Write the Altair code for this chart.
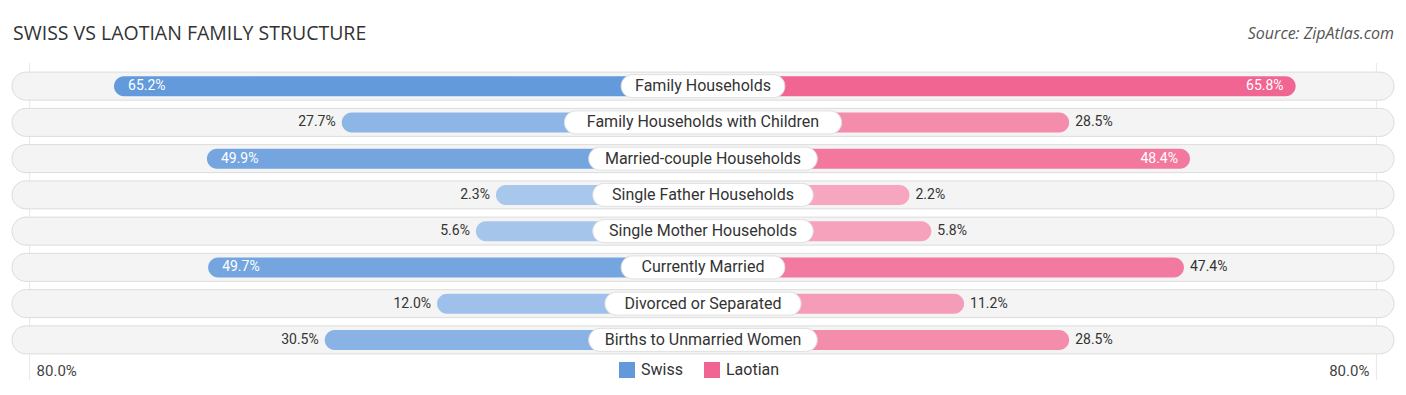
import altair as alt
import pandas as pd

categories = [
    "Family Households",
    "Family Households with Children",
    "Married-couple Households",
    "Single Father Households",
    "Single Mother Households",
    "Currently Married",
    "Divorced or Separated",
    "Births to Unmarried Women",
]
swiss = [65.2, 27.7, 49.9, 2.3, 5.6, 49.7, 12.0, 30.5]
laotian = [65.8, 28.5, 48.4, 2.2, 5.8, 47.4, 11.2, 28.5]
series = ["Swiss", "Laotian"]
axis_label = "80.0%"

# layout constants (units: 1 unit = K px)
K = 6.07
OFF = 31.8
D = 113.8
GRID = 110.9
W = 1382
H = 290

df = pd.DataFrame({"cat": categories, "swiss": swiss, "laotian": laotian})

xs = alt.Scale(domain=[-D, D], nice=False, zero=False)
ys = alt.Scale(domain=categories, paddingInner=0, paddingOuter=0)
Y = alt.Y("cat:N", scale=ys, axis=None, sort=categories)

base = alt.Chart(df).transform_calculate(
    lo=f"{-D}", hi=f"{D}", zero="0",
    s_end=f"-({OFF} + datum.swiss)",
    l_end=f"{OFF} + datum.laotian",
    hw=f"(length(datum.cat)*8.1+26)/2/{K}",
    nhw=f"-(length(datum.cat)*8.1+26)/2/{K}",
    s_lab="format(datum.swiss, '.1f') + '%'",
    l_lab="format(datum.laotian, '.1f') + '%'",
)

bg = base.mark_bar(height=28, cornerRadius=14, fill="#f4f4f4",
                   stroke="#dcdcdc", strokeWidth=1).encode(
    x=alt.X("lo:Q", scale=xs, axis=None), x2="hi:Q", y=Y)

sbar = base.mark_bar(height=20, cornerRadius=10).encode(
    x=alt.X("s_end:Q", scale=xs, axis=None), x2="zero:Q", y=Y,
    color=alt.Color("swiss:Q", scale=alt.Scale(domain=[0, 66], range=["#abc9ed", "#6199db"]), legend=None),
)
lbar = base.mark_bar(height=20, cornerRadius=10).encode(
    x=alt.X("zero:Q", scale=xs, axis=None), x2="l_end:Q", y=Y,
    fill=alt.Fill("laotian:Q", scale=alt.Scale(domain=[0, 66], range=["#f6a8c0", "#f06591"]), legend=None),
)

pill = base.mark_bar(height=23, cornerRadius=11.5, fill="white",
                     stroke="#e0e0e0", strokeWidth=1).encode(
    x=alt.X("nhw:Q", scale=xs, axis=None), x2="hw:Q", y=Y)

cat_text = base.mark_text(font="Roboto", fontSize=16, color="#333333").encode(
    x=alt.X("zero:Q", scale=xs, axis=None), y=Y, text="cat:N")

TH = 48
s_in = base.transform_filter(f"datum.swiss > {TH}").mark_text(
    font="Roboto", fontSize=14, color="white", align="left", dx=14).encode(
    x=alt.X("s_end:Q", scale=xs, axis=None), y=Y, text="s_lab:N")
s_out = base.transform_filter(f"datum.swiss <= {TH}").mark_text(
    font="Roboto", fontSize=14, color="#333333", align="right", dx=-6).encode(
    x=alt.X("s_end:Q", scale=xs, axis=None), y=Y, text="s_lab:N")
l_in = base.transform_filter(f"datum.laotian > {TH}").mark_text(
    font="Roboto", fontSize=14, color="white", align="right", dx=-12).encode(
    x=alt.X("l_end:Q", scale=xs, axis=None), y=Y, text="l_lab:N")
l_out = base.transform_filter(f"datum.laotian <= {TH}").mark_text(
    font="Roboto", fontSize=14, color="#333333", align="left", dx=6).encode(
    x=alt.X("l_end:Q", scale=xs, axis=None), y=Y, text="l_lab:N")

gdf = pd.DataFrame({"g": [-GRID, GRID], "t": [axis_label, axis_label]})
grid = alt.Chart(gdf).mark_rule(color="#e8e8e8", strokeWidth=1).encode(
    x=alt.X("g:Q", scale=xs, axis=None), y=alt.value(-5), y2=alt.value(312))
ax_l = alt.Chart(gdf).transform_filter("datum.g < 0").mark_text(
    font="Roboto", fontSize=15, color="#444444", align="left", dx=7).encode(
    x=alt.X("g:Q", scale=xs, axis=None), y=alt.value(303), text="t:N")
ax_r = alt.Chart(gdf).transform_filter("datum.g > 0").mark_text(
    font="Roboto", fontSize=15, color="#444444", align="right", dx=-7).encode(
    x=alt.X("g:Q", scale=xs, axis=None), y=alt.value(303), text="t:N")

tdf = pd.DataFrame({"title": ["SWISS VS LAOTIAN FAMILY STRUCTURE"], "src": ["Source: ZipAtlas.com"]})
title = alt.Chart(tdf).mark_text(font="Open Sans", fontSize=19.5, color="#333333",
                                 align="left", baseline="middle").encode(
    x=alt.value(1), y=alt.value(-34), text="title:N")
source = alt.Chart(tdf).mark_text(font="Open Sans", fontSize=16, fontStyle="italic",
                                  color="#555555", align="right", baseline="middle").encode(
    x=alt.value(W), y=alt.value(-34), text="src:N")

ldf = pd.DataFrame({"series": series})
leg = alt.Chart(ldf).mark_square(opacity=0).encode(
    x=alt.value(0), y=alt.value(0),
    color=alt.Color("series:N", sort=series,
                    scale=alt.Scale(domain=series, range=["#6199db", "#f06591"]),
                    legend=alt.Legend(title=None, orient="none", direction="horizontal",
                                      legendX=607, legendY=294, symbolType="square",
                                      symbolSize=256, symbolOpacity=1, symbolStrokeWidth=0,
                                      labelFont="Roboto", labelFontSize=16, labelColor="#333333",
                                      labelOffset=6, columnPadding=21)),
)

chart = alt.layer(grid, bg, sbar, lbar, pill, cat_text, s_in, s_out, l_in, l_out,
                  ax_l, ax_r, title, source, leg).resolve_scale(
    color="independent", fill="independent"
).properties(
    width=W, height=H,
    autosize=alt.AutoSizeParams(type="none"),
    padding={"left": 4, "top": 60, "right": 4, "bottom": 29},
).configure_view(stroke=None)

chart.save("out.html", embed_options={"renderer": "svg", "actions": False})
